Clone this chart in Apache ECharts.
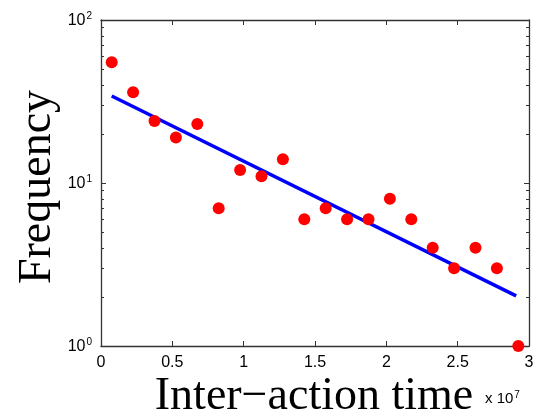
<!DOCTYPE html>
<html>
<head>
<meta charset="utf-8">
<script src="https://cdn.jsdelivr.net/npm/echarts@6/dist/echarts.min.js"></script>
<style>html,body{margin:0;padding:0;background:#fff;}#c{width:546px;height:417px;}</style>
</head>
<body>
<div id="c"></div>
<script>
// Data (x in units of 1e7)
const xValues = [0.075, 0.225, 0.375, 0.525, 0.675, 0.825, 0.975, 1.125, 1.275, 1.425, 1.575, 1.725, 1.875, 2.025, 2.175, 2.325, 2.475, 2.625, 2.775, 2.925];
const freqValues = [55, 36, 24, 19, 23, 7, 12, 11, 14, 6, 7, 6, 6, 8, 6, 4, 3, 4, 3, 1];
const fitX = [0.075, 2.91];
const fitY = [34.2, 2.03];
const xTickLabels = ['0', '0.5', '1', '1.5', '2', '2.5', '3'];
const yMajorExponents = ['0', '1', '2'];
const yMinorTicks = [2, 3, 4, 5, 6, 7, 8, 9, 20, 30, 40, 50, 60, 70, 80, 90];

const scatterData = xValues.map((x, i) => [x, freqValues[i]]);
const fitData = fitX.map((x, i) => [x, fitY[i]]);

const chart = echarts.init(document.getElementById('c'), null, {renderer: 'canvas'});
const axisColor = '#333';
const sans = '"Liberation Sans", Arial, Helvetica, sans-serif';
const serif = '"Liberation Serif", "Times New Roman", serif';

function xAxisDef(pos, showLabel) {
  return {
    type: 'value', position: pos, min: 0, max: 3, interval: 0.5,
    axisLine: {show: true, onZero: false, lineStyle: {color: axisColor, width: 1.3}},
    axisTick: {show: true, inside: true, length: 5, lineStyle: {color: axisColor, width: 1}},
    axisLabel: {show: showLabel, margin: 9, color: '#000', fontFamily: sans, fontSize: 16,
      formatter: function (v) { const i = Math.round(v / 0.5); return xTickLabels[i]; }},
    splitLine: {show: false}
  };
}
function yAxisDef(pos, showLabel, showLine, minor) {
  const d = {
    type: 'log', logBase: 10, position: pos, min: 1, max: 100,
    axisLine: {show: showLine, onZero: false, lineStyle: {color: axisColor, width: 1.3}},
    axisTick: {show: true, inside: true, length: minor ? 3 : 5, lineStyle: {color: axisColor, width: 1}},
    axisLabel: {show: showLabel, margin: 9, color: '#000', fontFamily: sans,
      formatter: function (v) {
        const e = Math.round(Math.log10(v));
        return '{b|10}{s|' + yMajorExponents[e] + '}';
      },
      rich: {
        b: {fontSize: 16, fontFamily: sans, color: '#000', lineHeight: 18, verticalAlign: 'bottom'},
        s: {fontSize: 10, fontFamily: sans, color: '#000', lineHeight: 18, verticalAlign: 'top', padding: [0, 0, 0, 1]}
      }
    },
    splitLine: {show: false}
  };
  if (minor) { d.axisTick.customValues = yMinorTicks; }
  return d;
}

chart.setOption({
  animation: false,
  backgroundColor: '#fff',
  grid: {left: 101, top: 20, width: 428, height: 326, containLabel: false},
  xAxis: [xAxisDef('bottom', true), xAxisDef('top', false)],
  yAxis: [yAxisDef('left', true, true, false), yAxisDef('right', false, true, false),
          yAxisDef('left', false, false, true), yAxisDef('right', false, false, true)],
  series: [
    {type: 'line', data: fitData, xAxisIndex: 0, yAxisIndex: 0, symbol: 'none',
      lineStyle: {color: '#0000ff', width: 3.5}, z: 2},
    {type: 'scatter', data: scatterData, xAxisIndex: 0, yAxisIndex: 0, symbol: 'circle', symbolSize: 12,
      itemStyle: {color: '#ff0000', opacity: 1}, z: 3}
  ],
  graphic: [
    {type: 'text', x: 38, y: 187, rotation: Math.PI / 2,
      style: {text: 'Frequency', font: '46px ' + serif, fill: '#000', textAlign: 'center', textVerticalAlign: 'middle'}},
    {type: 'text', x: 314, y: 397,
      style: {text: 'Inter\u2212action time', font: '46px ' + serif, fill: '#000', textAlign: 'center', textVerticalAlign: 'middle'}},
    {type: 'text', x: 485, y: 398,
      style: {text: '{a|x 10}{s|7}', textVerticalAlign: 'middle', textAlign: 'left',
        rich: {a: {fontSize: 15, fontFamily: sans, fill: '#000', lineHeight: 16, verticalAlign: 'bottom'},
               s: {fontSize: 10, fontFamily: sans, fill: '#000', lineHeight: 16, verticalAlign: 'top', padding: [0, 0, 0, 1]}}}}
  ]
});
</script>
</body>
</html>
